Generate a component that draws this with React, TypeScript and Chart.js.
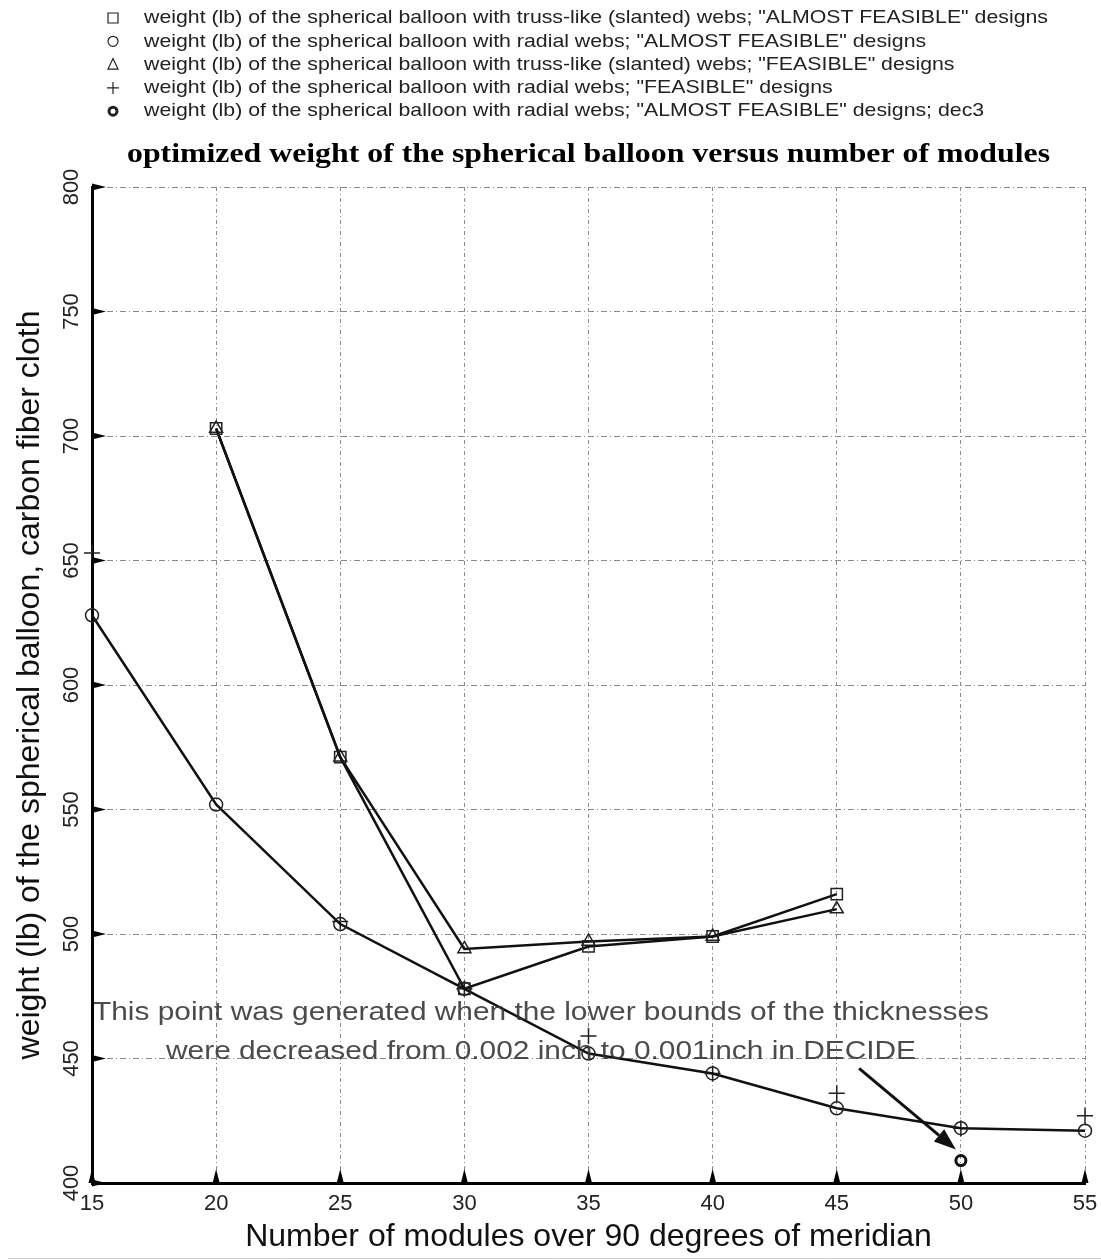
import { useEffect, useRef } from 'react';
import { Chart, registerables } from 'chart.js';

Chart.register(...registerables);

const modules = [15, 20, 25, 30, 35, 40, 45, 50, 55];
const trussAlmost = [null, 703, 571, 478, 495, 499, 516, null, null];
const radialAlmost = [628, 552, 504, 478, 452, 444, 430, 422, 421];
const trussFeasible = [null, 703, 571, 494, 497, 499, 510, null, null];
const radialFeasible = [653, null, 505, 478, 459, 444, 436, 422, 427];
const radialDec3 = [null, null, null, null, null, null, null, 409, null];

const legendLabels = [
  'weight (lb) of the spherical balloon with truss-like (slanted) webs; "ALMOST FEASIBLE" designs',
  'weight (lb) of the spherical balloon with radial webs; "ALMOST FEASIBLE" designs',
  'weight (lb) of the spherical balloon with truss-like (slanted) webs; "FEASIBLE" designs',
  'weight (lb) of the spherical balloon with radial webs; "FEASIBLE" designs',
  'weight (lb) of the spherical balloon with radial webs; "ALMOST FEASIBLE" designs; dec3',
];
const legendMarkers = ['square', 'circle', 'triangle', 'plus', 'boldCircle'];
const titleText = 'optimized weight of the spherical balloon versus number of modules';
const xTitle = 'Number of modules over 90 degrees of meridian';
const yTitle = 'weight (lb) of the spherical balloon, carbon fiber cloth';
const noteLines = [
  'This point was generated when the lower bounds of the thicknesses',
  'were decreased from 0.002 inch to 0.001inch in DECIDE',
];
const noteArrowFrom = { x: 45.9, y: 446 };
const noteArrowTo = { x: 49.8, y: 413.5 };

const SANS = "'Liberation Sans', Arial, sans-serif";
const SERIF = "'Liberation Serif', 'Times New Roman', serif";

function toPoints(vals: (number | null)[]) {
  return modules.map((m, i) => ({ x: m, y: vals[i] }));
}

function drawMarker(ctx: CanvasRenderingContext2D, kind: string, x: number, y: number) {
  ctx.save();
  ctx.strokeStyle = '#222';
  ctx.lineWidth = 1.2;
  ctx.beginPath();
  if (kind === 'square') {
    ctx.rect(x - 5, y - 5, 10, 10);
  } else if (kind === 'circle') {
    ctx.arc(x, y, 5, 0, Math.PI * 2);
  } else if (kind === 'triangle') {
    ctx.moveTo(x, y - 6);
    ctx.lineTo(x + 5, y + 4.5);
    ctx.lineTo(x - 5, y + 4.5);
    ctx.closePath();
  } else if (kind === 'plus') {
    ctx.moveTo(x - 6, y);
    ctx.lineTo(x + 6, y);
    ctx.moveTo(x, y - 6);
    ctx.lineTo(x, y + 6);
  } else {
    ctx.lineWidth = 3;
    ctx.arc(x, y, 4, 0, Math.PI * 2);
  }
  ctx.stroke();
  ctx.restore();
}

function fitText(ctx: CanvasRenderingContext2D, text: string, targetWidth: number) {
  return targetWidth / ctx.measureText(text).width;
}

const decorPlugin = {
  id: 'decor',
  beforeDraw(chart: any) {
    const ctx = chart.ctx as CanvasRenderingContext2D;
    ctx.save();
    ctx.fillStyle = '#fff';
    ctx.fillRect(0, 0, chart.width, chart.height);
    ctx.restore();
  },
  afterDraw(chart: any) {
    const ctx = chart.ctx as CanvasRenderingContext2D;
    const xs = chart.scales.x;
    const ys = chart.scales.y;
    const area = chart.chartArea;

    // legend
    ctx.save();
    ctx.font = `19px ${SANS}`;
    ctx.fillStyle = '#222';
    ctx.textBaseline = 'middle';
    const sx = fitText(ctx, legendLabels[0], 904);
    legendLabels.forEach((lab, i) => {
      const y = 18 + i * 23.3;
      drawMarker(ctx, legendMarkers[i], 113, y);
      ctx.save();
      ctx.translate(144, y);
      ctx.scale(sx, 1);
      ctx.fillText(lab, 0, 0);
      ctx.restore();
    });
    ctx.restore();

    // title
    ctx.save();
    ctx.font = `bold 28px ${SERIF}`;
    ctx.fillStyle = '#000';
    ctx.textBaseline = 'middle';
    ctx.textAlign = 'center';
    const tsx = fitText(ctx, titleText, 923);
    ctx.translate((area.left + area.right) / 2, 155);
    ctx.scale(tsx, 1);
    ctx.fillText(titleText, 0, 0);
    ctx.restore();

    // y tick labels (rotated)
    ctx.save();
    ctx.font = `22px ${SANS}`;
    ctx.fillStyle = '#222';
    ctx.textAlign = 'center';
    ctx.textBaseline = 'middle';
    ys.ticks.forEach((t: any) => {
      const py = ys.getPixelForValue(t.value);
      ctx.save();
      ctx.translate(72, py);
      ctx.rotate(-Math.PI / 2);
      ctx.fillText(String(t.value), 0, 0);
      ctx.restore();
    });
    ctx.restore();

    // inward wedge tick marks
    ctx.save();
    ctx.fillStyle = '#000';
    ys.ticks.forEach((t: any) => {
      const py = ys.getPixelForValue(t.value);
      ctx.beginPath();
      ctx.moveTo(area.left, py - 3.5);
      ctx.lineTo(area.left + 14, py);
      ctx.lineTo(area.left, py + 3.5);
      ctx.closePath();
      ctx.fill();
    });
    xs.ticks.forEach((t: any) => {
      const px = xs.getPixelForValue(t.value);
      ctx.beginPath();
      ctx.moveTo(px - 3.5, area.bottom);
      ctx.lineTo(px, area.bottom - 14);
      ctx.lineTo(px + 3.5, area.bottom);
      ctx.closePath();
      ctx.fill();
    });
    ctx.restore();

    // annotation text
    ctx.save();
    ctx.font = `26px ${SANS}`;
    ctx.fillStyle = 'rgba(50,50,50,0.88)';
    ctx.textAlign = 'center';
    ctx.textBaseline = 'alphabetic';
    const nsx = fitText(ctx, noteLines[0], 896);
    [1020, 1059].forEach((by, i) => {
      ctx.save();
      ctx.translate(541, by);
      ctx.scale(nsx, 1);
      ctx.fillText(noteLines[i], 0, 0);
      ctx.restore();
    });
    ctx.restore();

    // arrow
    const ax0 = xs.getPixelForValue(noteArrowFrom.x);
    const ay0 = ys.getPixelForValue(noteArrowFrom.y);
    const ax1 = xs.getPixelForValue(noteArrowTo.x);
    const ay1 = ys.getPixelForValue(noteArrowTo.y);
    const ang = Math.atan2(ay1 - ay0, ax1 - ax0);
    const headLen = 22;
    const headW = 8;
    const bx = ax1 - headLen * Math.cos(ang);
    const by = ay1 - headLen * Math.sin(ang);
    ctx.save();
    ctx.strokeStyle = '#111';
    ctx.fillStyle = '#111';
    ctx.lineWidth = 3;
    ctx.beginPath();
    ctx.moveTo(ax0, ay0);
    ctx.lineTo(bx, by);
    ctx.stroke();
    ctx.beginPath();
    ctx.moveTo(ax1, ay1);
    ctx.lineTo(bx + headW * Math.sin(ang), by - headW * Math.cos(ang));
    ctx.lineTo(bx - headW * Math.sin(ang), by + headW * Math.cos(ang));
    ctx.closePath();
    ctx.fill();
    ctx.restore();

    // bottom frame line
    ctx.save();
    ctx.strokeStyle = '#d0d0d0';
    ctx.lineWidth = 1;
    ctx.beginPath();
    ctx.moveTo(8, 1258.5);
    ctx.lineTo(chart.width, 1258.5);
    ctx.stroke();
    ctx.restore();
  },
};

export default function App() {
  const ref = useRef<HTMLCanvasElement | null>(null);

  useEffect(() => {
    if (!ref.current) return;
    const lineBase = {
      borderColor: '#111',
      borderWidth: 2.5,
      tension: 0,
      spanGaps: false,
      clip: false,
      pointBorderColor: '#222',
      pointBackgroundColor: 'rgba(0,0,0,0)',
      pointBorderWidth: 1.5,
    };
    const chart = new Chart(ref.current, {
      type: 'line',
      data: {
        datasets: [
          { ...lineBase, label: legendLabels[0], data: toPoints(trussAlmost), pointStyle: 'rect', pointRadius: 8 },
          { ...lineBase, label: legendLabels[2], data: toPoints(trussFeasible), pointStyle: 'triangle', pointRadius: 7.5 },
          { ...lineBase, label: legendLabels[1], data: toPoints(radialAlmost), pointStyle: 'circle', pointRadius: 6.5 },
          { ...lineBase, label: legendLabels[3], data: toPoints(radialFeasible), showLine: false, pointStyle: 'cross', pointRadius: 8 },
          { ...lineBase, label: legendLabels[4], data: toPoints(radialDec3), showLine: false, pointStyle: 'circle', pointRadius: 5, pointBorderWidth: 3, pointBorderColor: '#111' },
        ],
      },
      options: {
        responsive: false,
        animation: false,
        layout: { padding: { top: 187, right: 16, left: 0, bottom: 0 } },
        plugins: {
          legend: { display: false },
          title: { display: false },
          tooltip: { enabled: false },
        },
        scales: {
          x: {
            type: 'linear',
            min: 15,
            max: 55,
            ticks: { stepSize: 5, color: '#222', font: { size: 22, family: SANS }, padding: 8, maxRotation: 0 },
            grid: { color: '#8a8a8a', lineWidth: 1, drawTicks: false },
            border: { display: true, color: '#000', width: 3, dash: [4, 3, 1, 3] },
            title: { display: true, text: xTitle, color: '#111', font: { size: 32, family: SANS }, padding: { top: 0, bottom: 4 } },
            afterFit: (s: any) => { s.height = 77; s.paddingLeft = 0; s.paddingRight = 0; },
          },
          y: {
            type: 'linear',
            min: 400,
            max: 800,
            ticks: { stepSize: 50, display: false },
            grid: { color: '#8a8a8a', lineWidth: 1, drawTicks: false },
            border: { display: true, color: '#000', width: 3, dash: [6, 3, 1, 3] },
            title: { display: true, text: yTitle, color: '#111', font: { size: 32, family: SANS }, padding: { top: 11, bottom: 0 } },
            afterFit: (s: any) => { s.width = 92; s.paddingTop = 0; s.paddingBottom = 0; },
          },
        },
      } as any,
      plugins: [decorPlugin],
    });
    return () => chart.destroy();
  }, []);

  return (
    <div style={{ position: 'absolute', left: 0, top: 0, width: 1101, height: 1260 }}>
      <canvas ref={ref} width={1101} height={1260} />
    </div>
  );
}
